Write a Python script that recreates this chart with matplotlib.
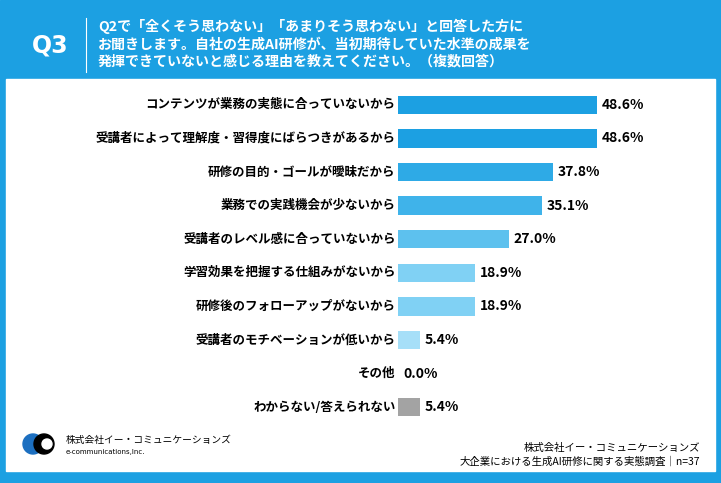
import matplotlib
matplotlib.use("Agg")
import matplotlib.pyplot as plt
from matplotlib.patches import Rectangle, Circle

plt.rcParams['font.family'] = ['Noto Sans CJK JP', 'DejaVu Sans']

categories = ["コンテンツが業務の実態に合っていないから",
              "受講者によって理解度・習得度にばらつきがあるから",
              "研修の目的・ゴールが曖昧だから",
              "業務での実践機会が少ないから",
              "受講者のレベル感に合っていないから",
              "学習効果を把握する仕組みがないから",
              "研修後のフォローアップがないから",
              "受講者のモチベーションが低いから",
              "その他",
              "わからない/答えられない"]
values = [48.6, 48.6, 37.8, 35.1, 27.0, 18.9, 18.9, 5.4, 0.0, 5.4]
colors = ["#1ca0e2", "#1ca0e2", "#2eaae6", "#3fb3ea", "#5dc1ee",
          "#80d1f4", "#80d1f4", "#a6dff8", "#a6dff8", "#a3a3a3"]

W, H = 721, 483
fig = plt.figure(figsize=(W/100, H/100), dpi=100)
bg = fig.add_axes([0, 0, 1, 1])
bg.set_xlim(0, W); bg.set_ylim(H, 0); bg.axis('off')
blue = "#1ca0e2"
bg.add_patch(Rectangle((0, 0), W, H, color=blue))
bg.add_patch(Rectangle((6, 79), W-12, 392, color="white"))
bg.text(50, 45, "Q3", color="white", fontsize=17, fontweight='bold', ha='center', va='center', family='DejaVu Sans')
bg.plot([86, 86], [18, 72], color="white", lw=0.8)
bg.text(98, 44, "Q2で「全くそう思わない」「あまりそう思わない」と回答した方に\nお聞きします。自社の生成AI研修が、当初期待していた水準の成果を\n発揮できていないと感じる理由を教えてください。（複数回答）",
        color="white", fontsize=10.1, fontweight='bold', ha='left', va='center', linespacing=1.3)
# footer
bg.add_patch(Circle((33, 444), 10, color="#1c6fc0"))
bg.add_patch(Circle((44, 444), 10, color="black"))
bg.add_patch(Circle((47, 444), 5, color="white"))
bg.text(66, 440, "株式会社イー・コミュニケーションズ", fontsize=7, va='center')
bg.text(66, 452, "e-communications,Inc.", fontsize=5, va='center', family='DejaVu Sans')
bg.text(700, 448, "株式会社イー・コミュニケーションズ", fontsize=7.5, ha='right', va='center')
bg.text(700, 462, "大企業における生成AI研修に関する実態調査｜n=37", fontsize=7.5, ha='right', va='center')

# bar axes
x0, px_per = 398, 199/48.6
xmax = 60
ax = fig.add_axes([x0/W, 1-424/H, xmax*px_per/W, (424-88)/H])
y = list(range(len(categories)))
ax.barh(y, values, height=0.55, color=colors)
ax.set_xlim(0, xmax); ax.set_ylim(len(categories)-0.5, -0.5)
ax.axis('off')
for i, (c, v) in enumerate(zip(categories, values)):
    ax.text(-0.6, i, c, ha='right', va='center', fontsize=9, fontweight='bold')
    ax.text(v + 1.2, i, f"{v:.1f}%", ha='left', va='center', fontsize=10, fontweight='bold')
fig.savefig("out.png", dpi=100)
